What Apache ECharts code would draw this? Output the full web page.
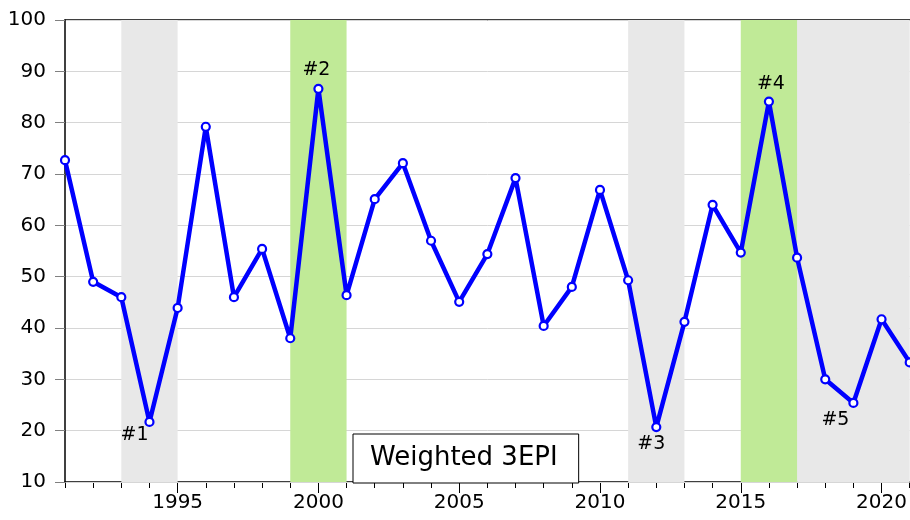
<!DOCTYPE html>
<html>
<head>
<meta charset="utf-8">
<script src="https://cdn.jsdelivr.net/npm/echarts@6/dist/echarts.min.js"></script>
<style>html,body{margin:0;padding:0;background:#fff;}#c{width:910px;height:520px;}</style>
</head>
<body>
<div id="c"></div>
<script>
const years = ['1991','1992','1993','1994','1995','1996','1997','1998','1999','2000','2001','2002','2003','2004','2005','2006','2007','2008','2009','2010','2011','2012','2013','2014','2015','2016','2017','2018','2019','2020','2021'];
const values = [72.7,49.0,46.0,21.7,43.9,79.2,46.0,55.4,38.0,86.6,46.4,65.1,72.1,57.0,45.1,54.4,69.2,40.4,48.0,66.9,49.3,20.7,41.2,64.0,54.7,84.1,53.7,30.0,25.4,41.7,33.3];
const seriesName = 'Weighted 3EPI';
const greyBands = [['1993','1995'],['2011','2013'],['2017','2021']];
const greenBands = [['1999','2001'],['2015','2017']];
const events = [
  {year:'1994', text:'#1', pos:'bottom', dx:-15, dy:-9},
  {year:'2000', text:'#2', pos:'top', dx:-2, dy:4},
  {year:'2012', text:'#3', pos:'bottom', dx:-5, dy:-6},
  {year:'2016', text:'#4', pos:'top', dx:2, dy:5},
  {year:'2019', text:'#5', pos:'bottom', dx:-18, dy:-5}
];
const majorYears = ['1995','2000','2005','2010','2015','2020'];
const yMin = 10, yMax = 100, yStep = 10;

const FONT = 'DejaVu Sans';
const evMap = {};
events.forEach(e => evMap[e.year] = e);
const lineData = years.map((y,i) => {
  const d = {value:values[i]};
  const e = evMap[y];
  if (e) {
    d.label = {show:true, formatter:e.text, position:e.pos, offset:[e.dx,e.dy],
      fontFamily:FONT, fontSize:19, color:'#000', distance:8};
  }
  return d;
});
const isMajor = (idx, val) => majorYears.indexOf(String(val)) >= 0 || majorYears.indexOf(years[idx]) >= 0;

const chart = echarts.init(document.getElementById('c'), null, {renderer:'canvas'});
chart.setOption({
  animation:false,
  backgroundColor:'#fff',
  grid:{left:65, right:-2, top:20, bottom:38},
  legend:{
    data:[{name:seriesName, icon:'none'}],
    left:353, top:434,
    itemWidth:0, itemHeight:0, itemGap:0,
    padding:[11,21,12,12],
    backgroundColor:'#fff', borderColor:'#000', borderWidth:1, borderRadius:0,
    textStyle:{fontFamily:FONT, fontSize:26, color:'#000'},
    selectedMode:false, z:10
  },
  xAxis:[
    {type:'category', data:years, boundaryGap:false, position:'bottom',
     axisLine:{show:true, onZero:false, lineStyle:{color:'#000', width:1.5}},
     axisTick:{show:true, length:6, interval:0, lineStyle:{color:'#000'}},
     axisLabel:{show:false}, splitLine:{show:false}},
    {type:'category', data:years, boundaryGap:false, position:'bottom',
     axisLine:{show:false, onZero:false},
     axisTick:{show:true, length:11, interval:isMajor, lineStyle:{color:'#000'}},
     axisLabel:{show:true, interval:isMajor,
       fontFamily:FONT, fontSize:20, color:'#000', margin:11},
     splitLine:{show:false}},
    {type:'category', data:years, boundaryGap:false, position:'top',
     axisLine:{show:true, onZero:false, lineStyle:{color:'#000', width:1.5}},
     axisTick:{show:false}, axisLabel:{show:false}, splitLine:{show:false}}
  ],
  yAxis:{type:'value', min:yMin, max:yMax, interval:yStep, z:1,
    axisLine:{show:true, onZero:false, lineStyle:{color:'#000', width:1.5}},
    axisTick:{show:true, length:10, lineStyle:{color:'#808080'}},
    axisLabel:{fontFamily:FONT, fontSize:20, color:'#000', margin:19},
    splitLine:{show:true, lineStyle:{color:'#d6d6d6', width:1}}
  },
  series:[
    {type:'line', data:[], z:0, silent:true, markArea:{silent:true, data:
      greyBands.map(b => [{xAxis:b[0], itemStyle:{color:'#e8e8e8'}},{xAxis:b[1]}])
      .concat(greenBands.map(b => [{xAxis:b[0], itemStyle:{color:'#c0ea97'}},{xAxis:b[1]}]))
    }},
    {name:seriesName, type:'line', data:lineData, z:3,
     symbol:'circle', symbolSize:8, showAllSymbol:true,
     lineStyle:{color:'#0000ff', width:4.5},
     itemStyle:{color:'#fff', borderColor:'#0000ff', borderWidth:2.2},
     emphasis:{disabled:true}}
  ]
});
</script>
</body>
</html>
